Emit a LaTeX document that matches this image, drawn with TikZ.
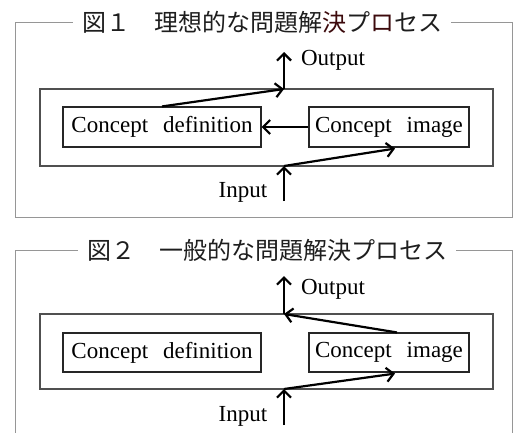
\documentclass[tikz,border=0pt]{standalone}
\usepackage{fontspec}
\setmainfont[WordSpace=2.6]{Liberation Serif}
\newfontfamily\jpfont{Noto Sans CJK JP}
\usetikzlibrary{arrows.meta,positioning,calc}
\definecolor{framegray}{RGB}{150,150,150}
\definecolor{boxgray}{RGB}{80,80,80}
\definecolor{titlegray}{RGB}{30,30,30}
\definecolor{darkred}{RGB}{60,10,12}

\begin{document}
\begin{tikzpicture}[x=1pt,y=-1pt,
		concept/.style={draw=black!85,line width=1.1pt,inner sep=0pt,minimum height=40pt,font=\fontsize{23}{26}\selectfont},
		process/.style={draw=boxgray,line width=1.4pt,minimum width=453pt,inner sep=0pt},
		flow/.style={line width=2.2pt,black,-{Straight Barb[length=7pt,width=14pt,line width=2.2pt]}},
		lbl/.style={inner sep=0pt,font=\fontsize{23}{26}\selectfont},
		frame/.style={draw=framegray,line width=1pt},
		title/.style={fill=white,inner xsep=9pt,inner ysep=2pt,text=titlegray,font=\jpfont\fontsize{24}{26}\selectfont}]
	\useasboundingbox (0,0) rectangle (521,432);
	% figure 1
	\draw[frame] (15,22) rectangle (512,217);
	\node[title] (title1) at (262,22) {図１　理想的な問題解{\color{darkred}決}プ{\color{darkred}ロ}セス};
	\node[process,minimum height=77pt] (proc1) at (266.5,127.5) {};
	\node[concept,minimum width=198pt] (def1) at (162,127) {Concept definition};
	\node[concept,minimum width=160pt] (img1) at (389,127) {Concept image};
	\coordinate (out1) at (284,89);
	\coordinate (top1) at (284,52);
	\coordinate (in1) at (284,166);
	\coordinate (bot1) at (284,201);
	\node[lbl] (output1) at (333,60) {Output};
	\node[lbl] (input1) at (243,192) {Input};
	\draw[flow] (def1.north) -- (out1);
	\draw[flow] (out1) -- (top1);
	\draw[flow] (img1.west) -- (def1.east);
	\draw[flow] (bot1) -- (in1);
	\draw[flow] (in1) -- ([xshift=6pt,yshift=-1pt]img1.south);
	% figure 2
	\draw[frame] (15,250) rectangle (512,445);
	\node[title] (title2) at (267,250) {図２　一般的な問題解決プロセス};
	\node[process,minimum height=75pt] (proc2) at (266.5,351.5) {};
	\node[concept,minimum width=198pt,minimum height=39pt] (def2) at (162,352.5) {Concept definition};
	\node[concept,minimum width=160pt,minimum height=39pt] (img2) at (389,352.5) {Concept image};
	\coordinate (out2) at (284,314);
	\coordinate (top2) at (284,276);
	\coordinate (in2) at (284,389);
	\coordinate (bot2) at (284,425);
	\node[lbl] (output2) at (333,289) {Output};
	\node[lbl] (input2) at (243,416) {Input};
	\draw[flow] ([xshift=8pt]img2.north) -- (out2);
	\draw[flow] (out2) -- (top2);
	\draw[flow] (bot2) -- (in2);
	\draw[flow] (in2) -- ([xshift=6pt,yshift=-1pt]img2.south);
\end{tikzpicture}
\end{document}
